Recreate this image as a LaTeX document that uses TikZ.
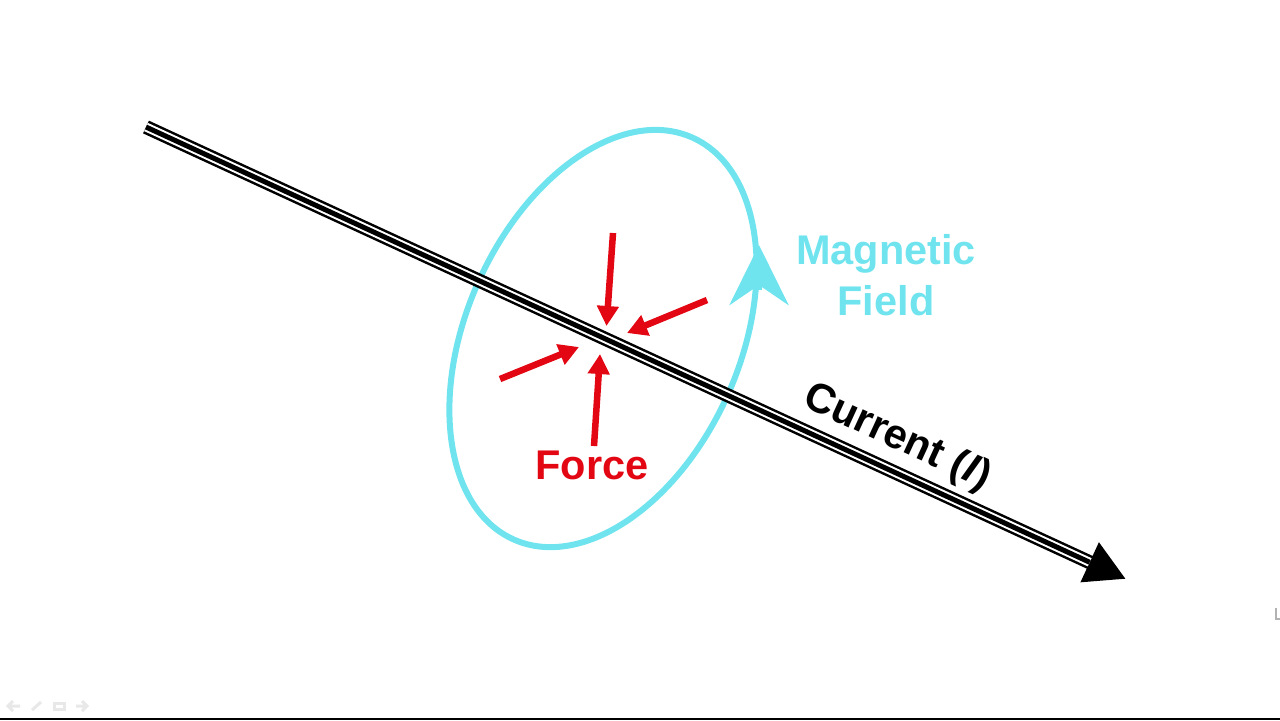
\documentclass[tikz,border=0pt]{standalone}
\usepackage{fontspec}
\setmainfont{Liberation Sans}
\usetikzlibrary{arrows.meta,shapes.geometric}
\definecolor{fieldcyan}{RGB}{112,228,238}
\definecolor{forcered}{RGB}{227,6,19}
\definecolor{slidegray}{RGB}{232,232,232}
\begin{document}
\begin{tikzpicture}[x=0.01cm,y=-0.01cm,
label text/.style={font=\fontsize{11.8}{14.5}\selectfont\bfseries,align=center,inner sep=0pt},
force arrow/.style={forcered,line width=0.065cm,-{Triangle[length=0.2cm,width=0.21cm]}},
field arrow/.style={fieldcyan,line width=0.06cm,-{Stealth[length=0.6cm,width=0.59cm,inset=0.2cm]}},
slide icon/.style={slidegray,line width=0.03cm}]
\useasboundingbox (0,0) rectangle (1280,720);
\fill[black] (0,718) rectangle (1280,720);
\node[ellipse,draw=fieldcyan,line width=0.06cm,inner sep=0pt,outer sep=0pt,minimum width=4.396cm,minimum height=2.736cm,rotate=66.1](field) at (603,338.5){};
\coordinate (wirestart) at (146,127);
\coordinate (wireend) at (1126,579);
\draw[line width=0.14cm,-{Triangle[length=0.4cm,width=0.41cm]}](wirestart)to(wireend);
\draw[white,line width=0.09cm,shorten >=0.4cm](wirestart)to(wireend);
\draw[black,line width=0.05cm,shorten >=0.4cm](wirestart)to(wireend);
\coordinate (fieldbase) at (759,290);
\coordinate (fieldtip) at (759,245);
\draw[field arrow](fieldbase)to(fieldtip);
\coordinate (top start) at (613,233);
\coordinate (top tip) at (606.5,326);
\coordinate (right start) at (707,300);
\coordinate (right tip) at (627,333);
\coordinate (left start) at (500,379);
\coordinate (left tip) at (579,347);
\coordinate (bottom start) at (594,446);
\coordinate (bottom tip) at (600,354);
\draw[force arrow](top start)to(top tip);
\draw[force arrow](right start)to(right tip);
\draw[force arrow](left start)to(left tip);
\draw[force arrow](bottom start)to(bottom tip);
\node[label text,text=forcered](force) at (592,465){Force};
\node[label text,text=fieldcyan](magnetic) at (886,275){Magnetic\\Field};
\node[label text,text=black,rotate=-24.7](current) at (897,438){Current (\textit{I})};
\draw[slide icon] (20,706)--(9,706) (13,701)--(8,706)--(13,711);
\draw[slide icon] (32,710)--(41,702);
\draw[slide icon] (54,703) rectangle (64,709);
\draw[slide icon] (76,706)--(87,706) (82,701)--(87,706)--(82,711);
\draw[gray!60,line width=0.02cm] (1276,608)--(1276,619)--(1280,619);
\end{tikzpicture}
\end{document}
